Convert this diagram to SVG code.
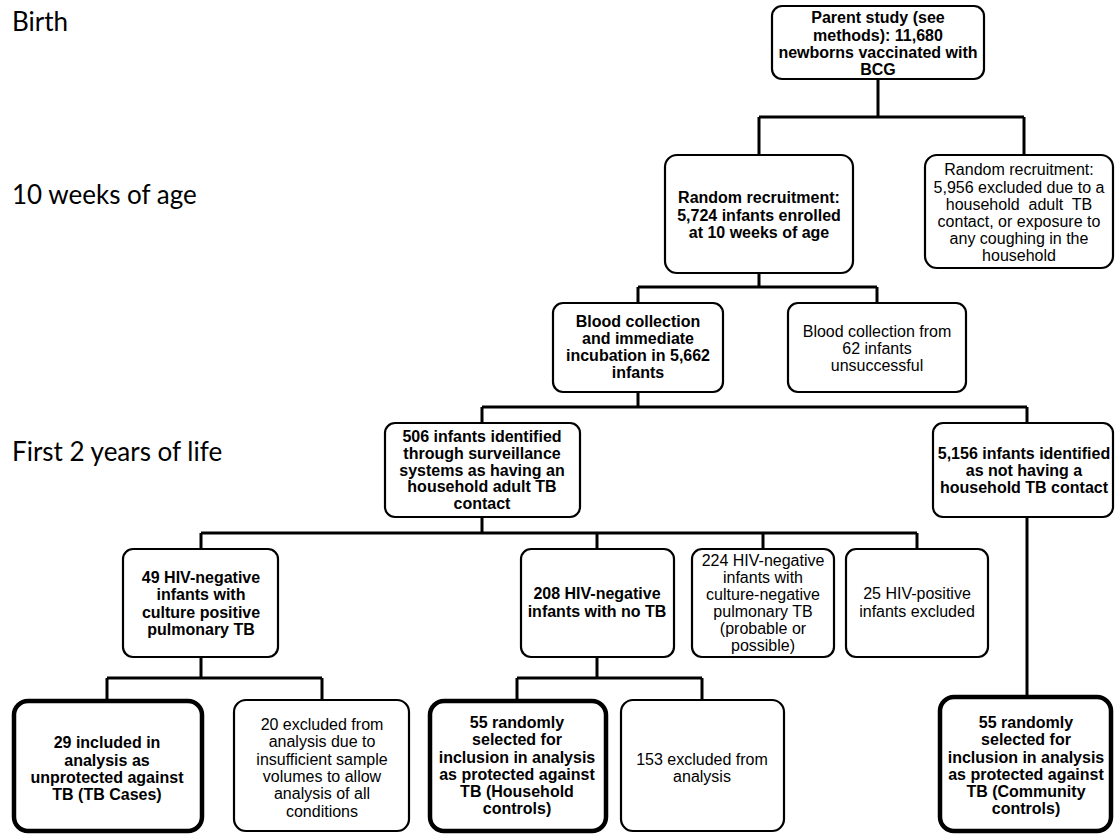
<svg xmlns="http://www.w3.org/2000/svg" width="1115" height="834" viewBox="0 0 1115 834">
<style>
.box{fill:#fff;stroke:#000;stroke-width:2.2}
.thick{stroke-width:4.5}
.b{font-family:"Liberation Sans",Arial,sans-serif;font-weight:bold;font-size:16px;text-anchor:middle;fill:#000}
.r{font-family:"Liberation Sans",Arial,sans-serif;font-size:16px;text-anchor:middle;fill:#000}
.lbl{font-family:Lato,"Liberation Sans",sans-serif;font-size:26px;fill:#000}
.conn{fill:none;stroke:#000;stroke-width:3}
</style>
<rect width="1115" height="834" fill="#fff"/>
<g id="labels">
<text class="lbl" x="12" y="31">Birth</text>
<text class="lbl" x="12" y="204">10 weeks of age</text>
<text class="lbl" x="12" y="461">First 2 years of life</text>
</g>
<g id="connectors" class="conn">
<path d="M878 79V117M759 117H1024M759 117V155M1024 117V155"/>
<path d="M759 273V287M638 287H877M638 287V303M877 287V303"/>
<path d="M638 392V407M482 407H1027M482 407V423M1027 407V423"/>
<path d="M482 517V533M201 533H917M201 533V549M597 533V549M763 533V549M917 533V549"/>
<path d="M1027 517V696"/>
<path d="M201 657V678M107 678H322M107 678V700M322 678V700"/>
<path d="M597 657V678M517 678H702M517 678V700M702 678V700"/>
</g>
<g id="parent">
<rect class="box" x="772" y="6" width="212" height="73" rx="10"/>
<text class="b" x="878"><tspan x="878" y="23">Parent study (see</tspan><tspan x="878" y="40.5">methods): 11,680</tspan><tspan x="878" y="58">newborns vaccinated with</tspan><tspan x="878" y="75">BCG</tspan></text>
</g>
<g id="random">
<rect class="box" x="665" y="155" width="188" height="118" rx="12"/>
<text class="b"><tspan x="759" y="203">Random recruitment:</tspan><tspan x="759" y="221">5,724 infants enrolled</tspan><tspan x="759" y="238">at 10 weeks of age</tspan></text>
</g>
<g id="excluded-recruit">
<rect class="box" x="925" y="155" width="188" height="113" rx="12"/>
<text class="r"><tspan x="1019" y="175">Random recruitment:</tspan><tspan x="1019" y="193">5,956 excluded due to a</tspan><tspan x="1019" y="210">household&#160; adult&#160; TB</tspan><tspan x="1019" y="227">contact, or exposure to</tspan><tspan x="1019" y="244">any coughing in the</tspan><tspan x="1019" y="261">household</tspan></text>
</g>
<g id="blood">
<rect class="box" x="553" y="303" width="170" height="89" rx="10"/>
<text class="b"><tspan x="638" y="327">Blood collection</tspan><tspan x="638" y="344">and immediate</tspan><tspan x="638" y="361">incubation in 5,662</tspan><tspan x="638" y="378">infants</tspan></text>
</g>
<g id="blood-fail">
<rect class="box" x="788" y="303" width="178" height="89" rx="10"/>
<text class="r"><tspan x="877" y="337">Blood collection from</tspan><tspan x="877" y="354">62 infants</tspan><tspan x="877" y="371">unsuccessful</tspan></text>
</g>
<g id="contact506">
<rect class="box" x="385" y="423" width="195" height="94" rx="10"/>
<text class="b"><tspan x="482" y="442">506 infants identified</tspan><tspan x="482" y="459">through surveillance</tspan><tspan x="482" y="476">systems as having an</tspan><tspan x="482" y="492">household adult TB</tspan><tspan x="482" y="509">contact</tspan></text>
</g>
<g id="nocontact">
<rect class="box" x="933" y="423" width="180" height="94" rx="10"/>
<text class="b"><tspan x="1024" y="459">5,156 infants identified</tspan><tspan x="1024" y="476">as not having a</tspan><tspan x="1024" y="493">household TB contact</tspan></text>
</g>
<g id="hiv49">
<rect class="box" x="123" y="549" width="155" height="108" rx="10"/>
<text class="b"><tspan x="201" y="583">49 HIV-negative</tspan><tspan x="201" y="600">infants with</tspan><tspan x="201" y="618">culture positive</tspan><tspan x="201" y="635">pulmonary TB</tspan></text>
</g>
<g id="hiv208">
<rect class="box" x="521" y="549" width="153" height="108" rx="10"/>
<text class="b"><tspan x="597" y="599">208 HIV-negative</tspan><tspan x="597" y="617">infants with no TB</tspan></text>
</g>
<g id="hiv224">
<rect class="box" x="692" y="549" width="142" height="108" rx="10"/>
<text class="r"><tspan x="763" y="566">224 HIV-negative</tspan><tspan x="763" y="583">infants with</tspan><tspan x="763" y="600">culture-negative</tspan><tspan x="763" y="617">pulmonary TB</tspan><tspan x="763" y="634">(probable or</tspan><tspan x="763" y="651">possible)</tspan></text>
</g>
<g id="hiv25">
<rect class="box" x="846" y="549" width="142" height="108" rx="10"/>
<text class="r"><tspan x="917" y="599">25 HIV-positive</tspan><tspan x="917" y="617">infants excluded</tspan></text>
</g>
<g id="cases29">
<rect class="box thick" x="14" y="701" width="188" height="130" rx="14"/>
<text class="b"><tspan x="107" y="748">29 included in</tspan><tspan x="107" y="766">analysis as</tspan><tspan x="107" y="783">unprotected against</tspan><tspan x="107" y="800">TB (TB Cases)</tspan></text>
</g>
<g id="excl20">
<rect class="box" x="234" y="700" width="175" height="131" rx="12"/>
<text class="r"><tspan x="322" y="730">20 excluded from</tspan><tspan x="322" y="747">analysis due to</tspan><tspan x="322" y="765">insufficient sample</tspan><tspan x="322" y="782">volumes to allow</tspan><tspan x="322" y="799">analysis of all</tspan><tspan x="322" y="817">conditions</tspan></text>
</g>
<g id="hh55">
<rect class="box thick" x="430" y="701" width="176" height="130" rx="14"/>
<text class="b"><tspan x="517" y="728">55 randomly</tspan><tspan x="517" y="745">selected for</tspan><tspan x="517" y="763">inclusion in analysis</tspan><tspan x="517" y="780">as protected against</tspan><tspan x="517" y="797">TB (Household</tspan><tspan x="517" y="814">controls)</tspan></text>
</g>
<g id="excl153">
<rect class="box" x="621" y="700" width="163" height="131" rx="12"/>
<text class="r"><tspan x="702" y="765">153 excluded from</tspan><tspan x="702" y="782">analysis</tspan></text>
</g>
<g id="comm55">
<rect class="box thick" x="940" y="697" width="171" height="134" rx="14"/>
<text class="b"><tspan x="1026" y="728">55 randomly</tspan><tspan x="1026" y="745">selected for</tspan><tspan x="1026" y="763">inclusion in analysis</tspan><tspan x="1026" y="780">as protected against</tspan><tspan x="1026" y="797">TB (Community</tspan><tspan x="1026" y="814">controls)</tspan></text>
</g>
</svg>
